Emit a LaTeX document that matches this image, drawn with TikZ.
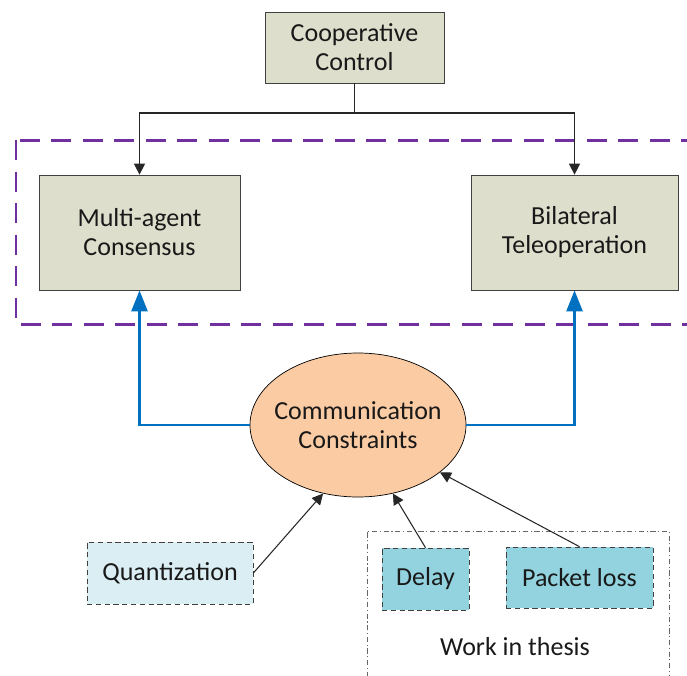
\documentclass[tikz,border=0pt]{standalone}
\usepackage{fontspec}
\setmainfont{Carlito}
\usepackage{xcolor}
\usetikzlibrary{arrows.meta,shapes.geometric}

\definecolor{boxgray}{HTML}{DDDECB}
\definecolor{peach}{HTML}{FBCBA3}
\definecolor{paleblue}{HTML}{DAEEF3}
\definecolor{losscyan}{HTML}{92D3DF}
\definecolor{linkblue}{HTML}{0070C0}
\definecolor{framepurple}{HTML}{7030A0}
\definecolor{edgegray}{HTML}{404040}

\begin{document}
\begin{tikzpicture}[
	every node/.style={font=\fontsize{14.8}{16.5}\selectfont, text=black!90},
	mainbox/.style={draw=edgegray, fill=boxgray, align=center, inner sep=0pt},
	issuebox/.style={draw=edgegray, densely dashed, align=center, inner sep=0pt},
	blackarrow/.style={draw=black!85, line width=0.6pt, -{Triangle[length=0.22cm,width=0.22cm]}},
	bluearrow/.style={draw=linkblue, line width=1.4pt, -{Triangle[length=0.42cm,width=0.32cm]}}
	]
	\clip (0,0) rectangle (13.74,-13.5);
	% main blocks
	\node[mainbox, minimum width=3.58cm, minimum height=1.42cm] (coop) at (7.09,-0.95) {Cooperative\\Control};
	\node[mainbox, minimum width=4.02cm, minimum height=2.3cm] (mac) at (2.79,-4.65) {Multi-agent\\Consensus};
	\node[mainbox, minimum width=4.14cm, minimum height=2.3cm] (bt) at (11.49,-4.65) {Bilateral\\Teleoperation};
	\draw[thick, dashed, framepurple, line width=1.7pt, dash pattern=on 0.4cm off 0.23cm] (0.32,-2.8) rectangle (14.2,-6.48);
	% constraints
	\node[ellipse, draw=black, fill=peach, align=center, minimum width=4.32cm, minimum height=2.88cm, inner xsep=-0.4cm, inner ysep=0pt] (cc) at (7.16,-8.5) {Communication\\Constraints};
	\node[issuebox, fill=paleblue, minimum width=3.32cm, minimum height=1.24cm] (quant) at (3.4,-11.46) {Quantization};
	\draw[gray!80!black, line width=0.5pt, dash pattern=on 3pt off 1.5pt on 0.6pt off 1.5pt] (7.34,-14) -- (7.34,-10.62) -- (13.38,-10.62) -- (13.38,-14);
	\node[issuebox, fill=losscyan, minimum width=1.74cm, minimum height=1.24cm] (delay) at (8.51,-11.58) {Delay};
	\node[issuebox, fill=losscyan, minimum width=2.94cm, minimum height=1.22cm] (loss) at (11.59,-11.55) {Packet loss};
	\node (thesis) at (10.3,-12.94) {Work in thesis};
	% connectors
	\coordinate (split) at (7.09,-2.26);
	\draw[black!85, line width=0.6pt] (coop.south) -- (split);
	\draw[blackarrow] (split) -| (mac.north);
	\draw[blackarrow] (split) -| (bt.north);
	\draw[bluearrow] (cc.west) -| (mac.south);
	\draw[bluearrow] (cc.east) -| (bt.south);
	\draw[blackarrow] (quant.east) -- (cc.243);
	\draw[blackarrow] (delay.north) -- (cc.297);
	\draw[blackarrow] (loss.north) -- (cc.330);
\end{tikzpicture}
\end{document}
